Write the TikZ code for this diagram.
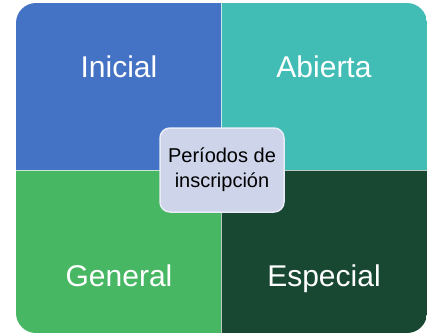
\documentclass[tikz,border=0pt]{standalone}
\usepackage{fontspec}
\setmainfont{Liberation Sans}
\definecolor{inicialblue}{HTML}{4472C4}
\definecolor{abiertateal}{HTML}{41BDB6}
\definecolor{generalgreen}{HTML}{47B763}
\definecolor{especialgreen}{HTML}{184832}
\definecolor{centrefill}{HTML}{CED4EA}
\definecolor{centreline}{HTML}{E9ECF6}
\tikzset{
quad/.style={text=white, font=\fontsize{30}{36}\selectfont, anchor=base}, % white labels of the four quadrants
centre/.style={draw=centreline, line width=1.5pt, fill=centrefill, rounded corners=10pt, minimum width=124pt, minimum height=84pt, align=center, font=\fontsize{20}{25}\selectfont}, % box in the middle
divider/.style={white, opacity=0.7, line width=1pt}, % thin lines between quadrants
}
\begin{document}
\begin{tikzpicture}[x=1pt,y=-1pt]
\useasboundingbox (0,0) rectangle (432,335);
\begin{scope}
\clip[rounded corners=20pt] (16,3) rectangle (427,333);
\fill[inicialblue] (16,3) rectangle (221,170);
\fill[abiertateal] (221,3) rectangle (427,170);
\fill[generalgreen] (16,170) rectangle (221,333);
\fill[especialgreen] (221,170) rectangle (427,333);
\draw[divider] (221,3) -- (221,333);
\draw[divider] (16,170) -- (427,170);
\end{scope}

\node[quad] (inicial) at (119,77) {Inicial};
\node[quad] (abierta) at (324,77) {Abierta};
\node[quad] (general) at (119,286) {General};
\node[quad] (especial) at (324,286) {Especial};

\node[centre] (periodos) at (222,170) {Períodos de\\inscripción};
\end{tikzpicture}
\end{document}
